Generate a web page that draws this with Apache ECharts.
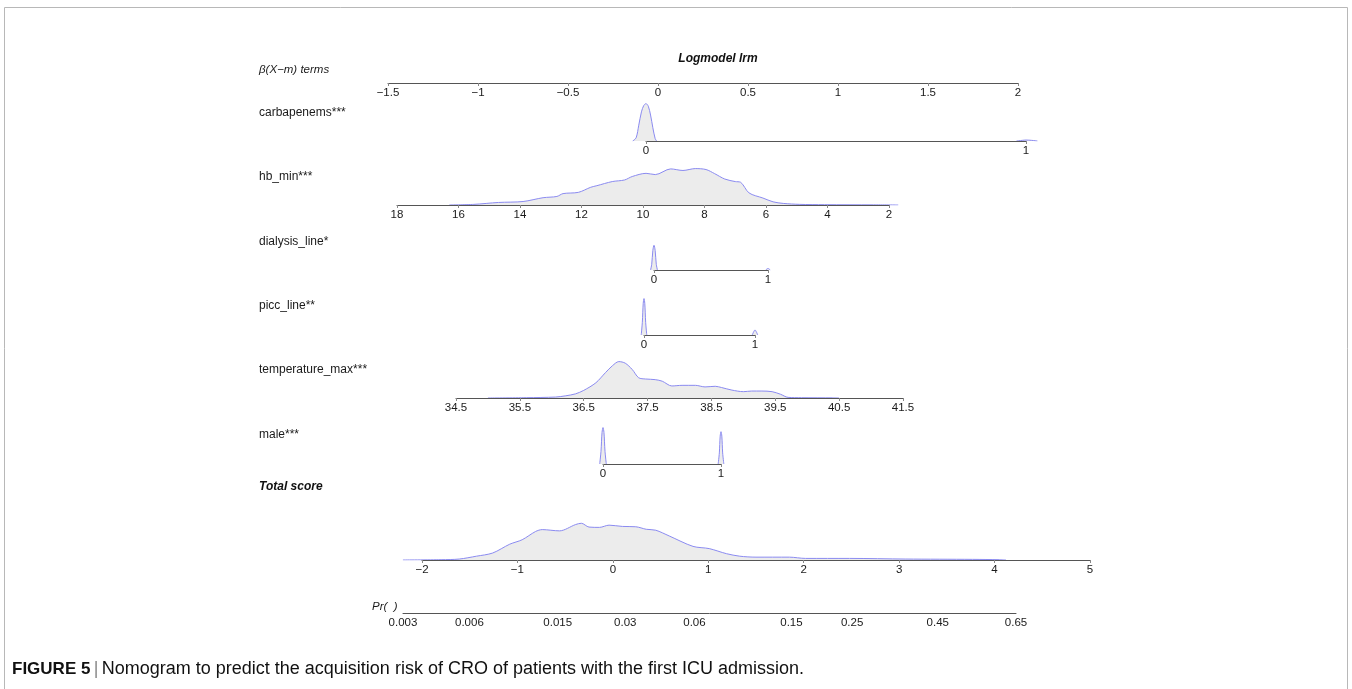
<!DOCTYPE html>
<html>
<head>
<meta charset="utf-8">
<title>Nomogram</title>
<script src="https://cdn.jsdelivr.net/npm/echarts@6/dist/echarts.min.js"></script>
<style>
  html, body { margin: 0; padding: 0; background: #fff; }
  #main { width: 1352px; height: 689px; }
</style>
</head>
<body>
<div id="main"></div>
<script>
// 变量名称
const termNames = ['carbapenems***', 'hb_min***', 'dialysis_line*', 'picc_line**', 'temperature_max***', 'male***'];

// 各变量坐标轴范围与步长
const termMin = [0, 2, 0, 0, 34.5, 0];
const termMax = [1, 18, 1, 1, 41.5, 1];
const termStep = [1, 2, 1, 1, 1, 1];

// β(X−m) 轴、总分轴、概率轴刻度
const betaMin = -1.5, betaMax = 2, betaStep = 0.5;
const totalMin = -2, totalMax = 5, totalStep = 1;
const prTicks = [0.003, 0.006, 0.015, 0.03, 0.06, 0.15, 0.25, 0.45, 0.65];

// 密度曲线（[取值, 相对密度]），'-' 表示断开
const carbapenemsDensity = [[-0.035, 0], [-0.026, 10], [-0.019, 50], [-0.012, 92], [-0.006, 112], [0, 118], [0.006, 110], [0.012, 82], [0.018, 42], [0.024, 8], [0.028, 0],
  [0.5, '-'], [0.975, 0], [0.99, 2], [1, 3], [1.015, 2], [1.03, 0]];
const hbDensity = [[16.3, 0], [15.5, 2], [14.7, 8], [13.9, 11], [13.25, 23], [12.8, 27], [12.6, 36], [12.1, 40], [11.7, 56], [11.5, 61], [11.0, 74], [10.6, 79],
  [10.35, 90], [9.9, 100], [9.6, 96], [9.1, 114], [8.7, 109], [8.3, 115], [7.95, 112], [7.67, 99], [7.34, 82], [7.0, 74], [6.83, 72], [6.55, 38], [6.1, 22],
  [5.77, 10], [5.44, 5], [4.9, 2], [4.1, 1], [2.5, 0.5], [1.7, 0]];
const dialysisDensity = [[-0.03, 0], [-0.02, 18], [-0.01, 62], [0, 78], [0.01, 62], [0.02, 18], [0.03, 0],
  [0.5, '-'], [0.98, 0], [0.99, 3], [1, 5], [1.01, 3], [1.02, 0]];
const piccDensity = [[-0.025, 0], [-0.015, 40], [-0.007, 100], [0, 115], [0.007, 100], [0.015, 40], [0.025, 0],
  [0.5, '-'], [0.975, 0], [0.988, 10], [1, 16], [1.012, 10], [1.025, 0]];
const temperatureDensity = [[35.0, 0], [35.6, 1], [36.06, 3], [36.22, 7], [36.37, 13], [36.5, 24], [36.69, 48], [36.84, 80], [36.95, 102], [37.05, 115],
  [37.15, 110], [37.26, 90], [37.36, 64], [37.47, 60], [37.62, 58], [37.73, 53], [37.88, 38], [38.04, 40], [38.25, 40], [38.4, 35], [38.56, 37],
  [38.66, 33], [38.82, 25], [39.0, 20], [39.13, 22], [39.29, 22], [39.45, 20], [39.58, 12], [39.7, 2], [39.91, 1], [40.4, 0.5], [40.5, 0]];
const maleDensity = [[-0.028, 0], [-0.017, 40], [-0.008, 100], [0, 115], [0.008, 100], [0.017, 40], [0.028, 0],
  [0.5, '-'], [0.976, 0], [0.986, 35], [0.993, 88], [1, 102], [1.007, 88], [1.014, 35], [1.024, 0]];
const totalDensity = [[-2.2, 0], [-1.8, 1], [-1.61, 3], [-1.43, 12], [-1.26, 22], [-1.08, 50], [-0.95, 64], [-0.81, 90], [-0.74, 96], [-0.56, 92],
  [-0.39, 112], [-0.33, 116], [-0.25, 104], [-0.14, 103], [-0.04, 110], [0.1, 106], [0.24, 105], [0.35, 97], [0.45, 94], [0.59, 76], [0.84, 43],
  [1.01, 36], [1.19, 20], [1.33, 12], [1.5, 9], [1.85, 9], [2.02, 5], [2.48, 5], [3.07, 3], [3.77, 2], [4.05, 1], [4.12, 0]];
const termDensity = [carbapenemsDensity, hbDensity, dialysisDensity, piccDensity, temperatureDensity, maleDensity];

// 版面位置（像素）
const termAxisY = [141, 205, 270, 335, 398, 464];
const termLeft = [646, 397, 654, 644, 456, 603];
const termRight = [1026, 889, 768, 755, 903, 721];
const termLabelY = [113, 177, 242, 306, 370, 435];
const densityH = 38;
const pad = 0.15; // 密度图两侧留白比例

const FONT = '"Liberation Sans", Arial, sans-serif';
const logit = p => Math.log(p / (1 - p));
const fmtMinus = v => String(v).replace('-', '\u2212');

const grids = [];
const xAxes = [];
const yAxes = [];
const series = [];

/**
 * 添加一行：一个显示坐标轴的 grid，再加一个两侧加宽、隐藏坐标轴的 grid 画密度曲线
 */
function addPanel(left, right, axisY, min, max, step, data, extra) {
  extra = extra || {};
  const idx = grids.length;
  grids.push({ left: left, width: right - left, top: axisY - densityH, height: densityH });
  xAxes.push(Object.assign({
    type: 'value', gridIndex: idx, min: min, max: max, interval: step,
    position: 'bottom', z: 5,
    splitLine: { show: false },
    axisLine: { show: true, onZero: false, lineStyle: { color: '#555', width: 1 } },
    axisTick: { show: true, length: 3, lineStyle: { color: '#888' } },
    axisLabel: { margin: 4, fontSize: 11.5, fontFamily: FONT, color: '#1a1a1a', formatter: fmtMinus }
  }, extra));
  yAxes.push({ type: 'value', gridIndex: idx, min: 0, max: 120, show: false });

  if (!data) return;
  const w = right - left;
  const span = max - min;
  const didx = grids.length;
  grids.push({ left: left - pad * w, width: w * (1 + 2 * pad), top: axisY - densityH, height: densityH });
  xAxes.push({
    type: 'value', gridIndex: didx, show: false, inverse: !!extra.inverse,
    min: min - pad * span, max: max + pad * span
  });
  yAxes.push({ type: 'value', gridIndex: didx, min: 0, max: 120, show: false });
  series.push({
    type: 'line', xAxisIndex: didx, yAxisIndex: didx, data: data,
    showSymbol: false, symbol: 'none', smooth: 0.3, silent: true, z: 2,
    lineStyle: { color: '#8a8af0', width: 1 },
    areaStyle: { color: '#ececec', opacity: 1 }
  });
}

// β(X−m) 轴
addPanel(388, 1018, 83, betaMin, betaMax, betaStep, null);
// 各变量
termNames.forEach((name, i) => {
  addPanel(termLeft[i], termRight[i], termAxisY[i], termMin[i], termMax[i], termStep[i], termDensity[i],
    i === 1 ? { inverse: true } : {});
});
// 总分
addPanel(422, 1090, 560, totalMin, totalMax, totalStep, totalDensity);
// 概率轴
const prValues = prTicks.map(logit);
addPanel(403, 1016, 613, logit(prTicks[0]), logit(prTicks[prTicks.length - 1]), null, null, {
  interval: undefined,
  axisTick: { show: false },
  axisLabel: {
    margin: 4, fontSize: 11.5, fontFamily: FONT, color: '#1a1a1a',
    customValues: prValues,
    formatter: v => {
      let best = 0;
      prValues.forEach((pv, k) => { if (Math.abs(pv - v) < Math.abs(prValues[best] - v)) best = k; });
      return String(prTicks[best]);
    }
  }
});

const graphics = [
  { type: 'line', shape: { x1: 4.5, y1: 7.5, x2: 1347.5, y2: 7.5 }, style: { stroke: '#b8b8b8', lineWidth: 1 } },
  { type: 'line', shape: { x1: 4.5, y1: 7.5, x2: 4.5, y2: 689 }, style: { stroke: '#b8b8b8', lineWidth: 1 } },
  { type: 'line', shape: { x1: 1347.5, y1: 7.5, x2: 1347.5, y2: 689 }, style: { stroke: '#b8b8b8', lineWidth: 1 } },
  { type: 'text', x: 718, y: 59, style: { text: 'Logmodel lrm', font: 'italic bold 12px ' + FONT, fill: '#111', align: 'center', verticalAlign: 'middle' } },
  { type: 'text', x: 259, y: 70, style: { text: '\u03b2(X\u2212m) terms', font: 'italic 11.5px ' + FONT, fill: '#1a1a1a', verticalAlign: 'middle' } },
  { type: 'text', x: 259, y: 487, style: { text: 'Total score', font: 'italic bold 12px ' + FONT, fill: '#111', verticalAlign: 'middle' } },
  { type: 'text', x: 372, y: 607, style: { text: 'Pr(  )', font: 'italic 11.5px ' + FONT, fill: '#1a1a1a', verticalAlign: 'middle' } },
  {
    type: 'text', x: 12, y: 669,
    style: {
      text: '{b|FIGURE 5} {s||} {n|Nomogram to predict the acquisition risk of CRO of patients with the first ICU admission.}',
      verticalAlign: 'middle',
      rich: {
        b: { fontFamily: FONT, fontWeight: 'bold', fontSize: 17, fill: '#111' },
        s: { fontFamily: FONT, fontSize: 18, fill: '#888' },
        n: { fontFamily: FONT, fontSize: 18, fill: '#111' }
      }
    }
  }
];
termNames.forEach((name, i) => {
  graphics.push({ type: 'text', x: 259, y: termLabelY[i], style: { text: name, font: '12px ' + FONT, fill: '#1a1a1a', verticalAlign: 'middle' } });
});

const myChart = echarts.init(document.getElementById('main'), null, { renderer: 'canvas' });
myChart.setOption({
  animation: false,
  backgroundColor: '#fff',
  grid: grids,
  xAxis: xAxes,
  yAxis: yAxes,
  series: series,
  graphic: graphics
});
</script>
</body>
</html>
